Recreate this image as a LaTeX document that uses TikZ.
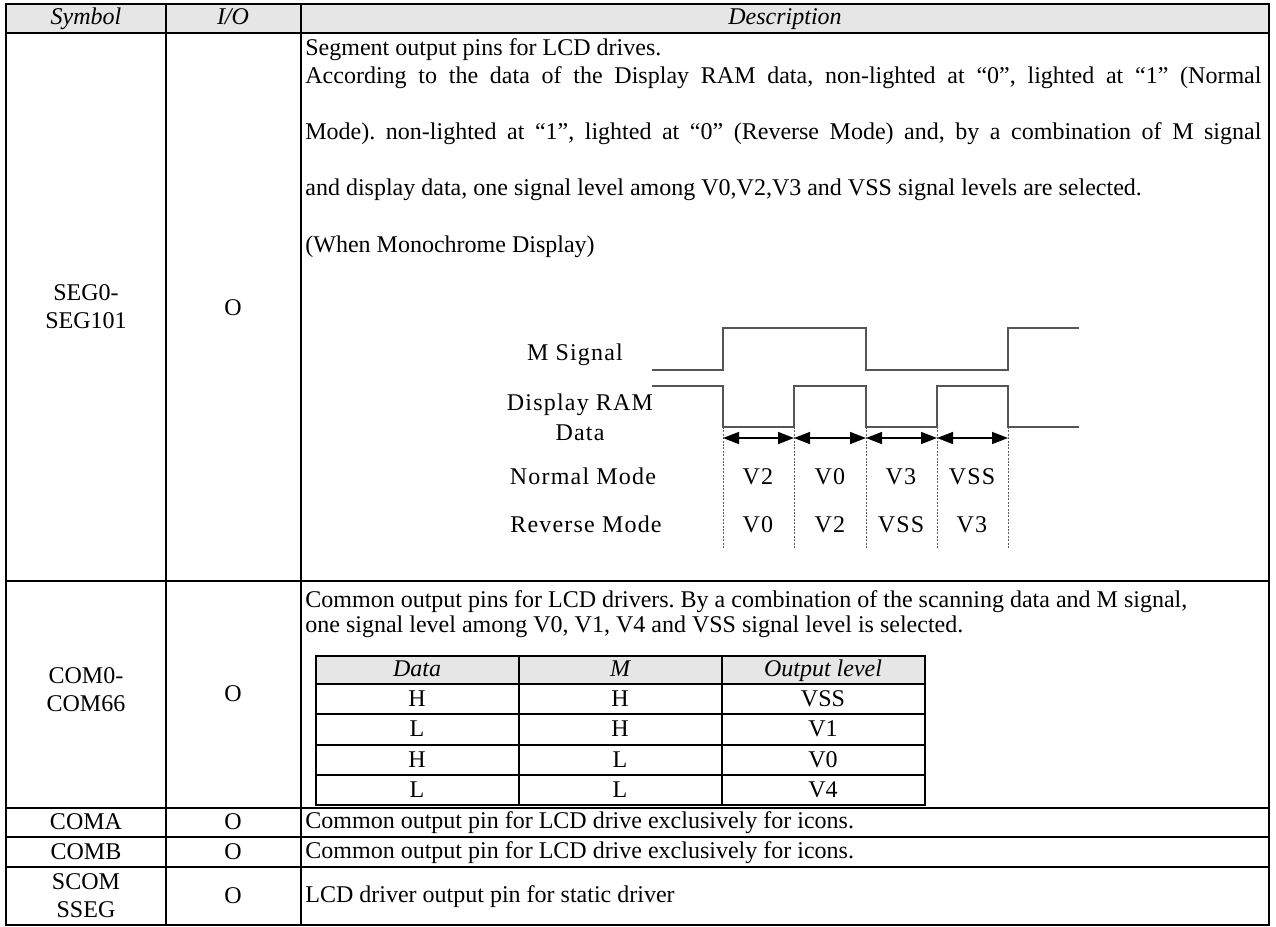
\documentclass[tikz,border=0pt]{standalone}
\usepackage{fontspec}
\setmainfont{Liberation Serif}
\newfontfamily\wavefont[LetterSpace=5]{Liberation Serif}
\usetikzlibrary{arrows.meta}
\definecolor{headgray}{RGB}{230,230,230}
\definecolor{wavegray}{RGB}{85,85,85}
\definecolor{tickgray}{RGB}{95,95,95}
\frenchspacing

\begin{document}
\begin{tikzpicture}[x=0.5pt,y=-0.5pt,
    tabline/.style={line width=1pt},
    cell/.style={inner sep=0pt,anchor=mid,font=\fontsize{12}{14}\selectfont},
    twoline/.style={inner sep=0pt,align=center,font=\fontsize{12}{14}\selectfont},
    headcell/.style={cell,font=\fontsize{12}{14}\selectfont\itshape},
    desc/.style={inner sep=0pt,anchor=mid west,font=\fontsize{12}{14}\selectfont},
    wave/.style={line width=0.75pt,wavegray},
    tick/.style={line width=0.5pt,tickgray,dash pattern=on 1pt off 0.7pt},
    span/.style={line width=0.75pt,{Triangle[length=8pt,width=6pt]}-{Triangle[length=8pt,width=6pt]}},
    wavelbl/.style={inner sep=0pt,anchor=mid,font=\fontsize{12}{15}\wavefont}]
    \useasboundingbox (0,0) rectangle (1276,927);
    \fill[headgray] (6,4) rectangle (1269,33); %header
    \fill[headgray] (316,656) rectangle (925,684); %inner header
    % outer table
    \draw[tabline] (6,4) rectangle (1269,925);
    \draw[tabline] (6,33)--(1269,33);
    \draw[tabline] (6,581)--(1269,581);
    \draw[tabline] (6,808)--(1269,808);
    \draw[tabline] (6,837)--(1269,837);
    \draw[tabline] (6,867)--(1269,867);
    \draw[tabline] (166,4)--(166,925);
    \draw[tabline] (301,4)--(301,925);
    % inner table
    \draw[tabline] (316,656) rectangle (925,805);
    \foreach \y in {684,714,745,775} \draw[tabline] (316,\y)--(925,\y);
    \draw[tabline] (519,656)--(519,805);
    \draw[tabline] (722,656)--(722,805);
    % header texts
    \node[headcell] (hsym) at (86,20) {Symbol};
    \node[headcell] (hio) at (233,20) {I/O};
    \node[headcell] (hdesc) at (785,20) {Description};
    % symbols and I/O
    \node[twoline] (segsym) at (86,307) {SEG0-\\SEG101};
    \node[cell] (segio) at (233,311) {O};
    \node[twoline] (comsym) at (86,690) {COM0-\\COM66};
    \node[cell] (comio) at (233,697) {O};
    \node[cell] (comasym) at (86,825) {COMA};
    \node[cell] (comaio) at (233,825) {O};
    \node[cell] (combsym) at (86,855) {COMB};
    \node[cell] (combio) at (233,855) {O};
    \node[twoline] (scomsym) at (86,896) {SCOM\\SSEG};
    \node[cell] (scomio) at (233,899) {O};
    % descriptions
    \node[desc] (seg1) at (305,51) {Segment output pins for LCD drives.};
    \node[desc] (seg2) at (305,79) {\makebox[478pt][s]{According to the data of the Display RAM data, non-lighted at “0”, lighted at “1” (Normal}};
    \node[desc] (seg3) at (305,135) {\makebox[478pt][s]{Mode). non-lighted at “1”, lighted at “0” (Reverse Mode) and, by a combination of M signal}};
    \node[desc] (seg4) at (305,191) {and display data, one signal level among V0,V2,V3 and VSS signal levels are selected.};
    \node[desc] (seg5) at (305,248) {(When Monochrome Display)};
    \node[desc] (com1) at (305,603) {Common output pins for LCD drivers. By a combination of the scanning data and M signal,};
    \node[desc] (com2) at (305,628) {one signal level among V0, V1, V4 and VSS signal level is selected.};
    \node[desc] (coma) at (305,824) {Common output pin for LCD drive exclusively for icons.};
    \node[desc] (comb) at (305,854) {Common output pin for LCD drive exclusively for icons.};
    \node[desc] (scom) at (305,898) {LCD driver output pin for static driver};
    % inner table texts
    \node[headcell] (tdata) at (417,672) {Data};
    \node[headcell] (tm) at (620,672) {M};
    \node[headcell] (tout) at (823,672) {Output level};
    \foreach \d/\m/\o [count=\i] in {H/H/VSS,L/H/V1,H/L/V0,L/L/V4}{
      \pgfmathsetmacro{\ry}{702+30.33*(\i-1)}
      \node[cell] (d\i) at (417,\ry) {\d};
      \node[cell] (m\i) at (620,\ry) {\m};
      \node[cell] (o\i) at (823,\ry) {\o};
    }
    % timing chart
    \node[wavelbl] (msig) at (575,356) {M Signal};
    \node[twoline,font=\fontsize{12}{15}\wavefont] (ram) at (580,417) {Display RAM\\Data};
    \node[wavelbl] (nmode) at (583,480) {Normal Mode};
    \node[wavelbl] (rmode) at (586,528) {Reverse Mode};
    \draw[wave] (652,370) -| (723,328) -| (866,370) -| (1008,328) -- (1079,328); %M
    \draw[wave] (652,386) -| (723,427) -| (794,386) -| (866,427) -| (937,386) -| (1008,427) -- (1079,427); %data
    \foreach \t [count=\i] in {723,794,866,937,1008}{
      \draw[tick] (\t,427) -- (\t,548);
      \coordinate (p\i) at (\t,438);
    }
    \foreach \a/\b in {1/2,2/3,3/4,4/5} \draw[span] (p\a) -- (p\b);
    \foreach \v/\w/\x in {V2/V0/758,V0/V2/830,V3/VSS/901,VSS/V3/972}{
      \node[wavelbl] (n\x) at (\x,480) {\v};
      \node[wavelbl] (r\x) at (\x,528) {\w};
    }
\end{tikzpicture}
\end{document}
